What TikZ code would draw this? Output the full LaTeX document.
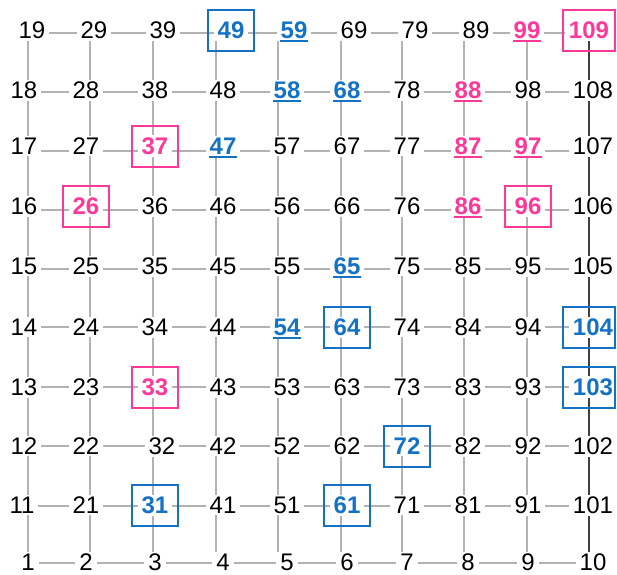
\documentclass[tikz,border=0pt]{standalone}
\usepackage{fontspec}
\setmainfont{Liberation Sans}
\definecolor{markblue}{RGB}{20,114,196}
\definecolor{markpink}{RGB}{252,56,152}
\tikzset{
  lbl47/.style=blueul, lbl54/.style=blueul, lbl58/.style=blueul,
  lbl59/.style=blueul, lbl65/.style=blueul, lbl68/.style=blueul,
  lbl31/.style=blueul, lbl49/.style=blueul, lbl61/.style=blueul,
  lbl64/.style=blueul, lbl72/.style=blueul, lbl103/.style=blueul, lbl104/.style=blueul,
  lbl86/.style=pinkul, lbl87/.style=pinkul, lbl88/.style=pinkul,
  lbl97/.style=pinkul, lbl99/.style=pinkul,
  lbl26/.style=pinkul, lbl33/.style=pinkul, lbl37/.style=pinkul,
  lbl96/.style=pinkul, lbl109/.style=pinkul,
  lbl1/.style={xshift=4pt}, lbl32/.style={xshift=7pt}, lbl11/.style={xshift=-2pt}
}

\begin{document}
\begin{tikzpicture}[x=1pt, y=-1pt, every node/.style={font=\fontsize{24}{28}\selectfont},
  gridline/.style={draw=black!30, line width=1.2pt},
  edgeline/.style={draw=black!75, line width=1.1pt},
  num/.style={fill=white, inner xsep=4pt, inner ysep=2pt},
  blueul/.style={text=markblue, font=\fontsize{24}{28}\selectfont\bfseries},
  pinkul/.style={text=markpink, font=\fontsize{24}{28}\selectfont\bfseries},
  bluebox/.style={draw=markblue, line width=2pt, inner xsep=6pt, minimum width=46pt, minimum height=41pt, font=\fontsize{24}{28}\selectfont\bfseries},
  pinkbox/.style={bluebox, draw=markpink},
  blueline/.style={draw=markblue, line width=2pt},
  pinkline/.style={draw=markpink, line width=2pt}]
\useasboundingbox (0,0) rectangle (617,574);
\foreach \x [count=\c] in {28,90,153,216,278,341,402,464,527,589} {
  \coordinate (top\c) at (\x,33);
  \coordinate (bot\c) at (\x,563);
}
\foreach \y [count=\r] in {563,506,446,387,327,269,210,151,92,33} {
  \coordinate (left\r) at (28,\y);
  \coordinate (right\r) at (589,\y);
}
\foreach \i in {1,...,10} {
  \draw[gridline] (top\i) -- (bot\i);
  \draw[gridline] (left\i) -- (right\i);
}
\draw[edgeline] (top10) -- (bot10);
\foreach \y [count=\r] in {562,505,446,387,327,266,206,146,90.5} {
  \foreach \x [count=\c] in {24,86,155,223,287,347,407,468,528,593} {
    \pgfmathtruncatemacro\n{\r==1 ? \c : 10*\c+\r-1}
    \node[num, lbl\n/.try] (t\n) at (\x,\y) {\n};
  }
}
\foreach \x [count=\c] in {32,94,163,231,294,354,415,476,527,589} {
  \pgfmathtruncatemacro\n{10*\c+9}
  \node[num, lbl\n/.try] (t\n) at (\x,30.5) {\n};
}
\foreach \n in {49,31,61,64,72}
  \node[bluebox] (box\n) at (t\n) {\phantom{\n}};
\foreach \n in {103,104}
  \node[bluebox] (box\n) at (t\n -| top10) {\phantom{\n}};
\foreach \n in {37,26,96,33}
  \node[pinkbox] (box\n) at (t\n) {\phantom{\n}};
\node[pinkbox] (box109) at (t109 -| top10) {\phantom{109}};
\foreach \n in {59,58,68,47,65,54}
  \draw[blueline] ([xshift=4pt,yshift=-2.5pt]t\n.base west) -- ([xshift=-4pt,yshift=-2.5pt]t\n.base east);
\foreach \n in {99,88,87,97,86}
  \draw[pinkline] ([xshift=4pt,yshift=-2.5pt]t\n.base west) -- ([xshift=-4pt,yshift=-2.5pt]t\n.base east);
\end{tikzpicture}
\end{document}
